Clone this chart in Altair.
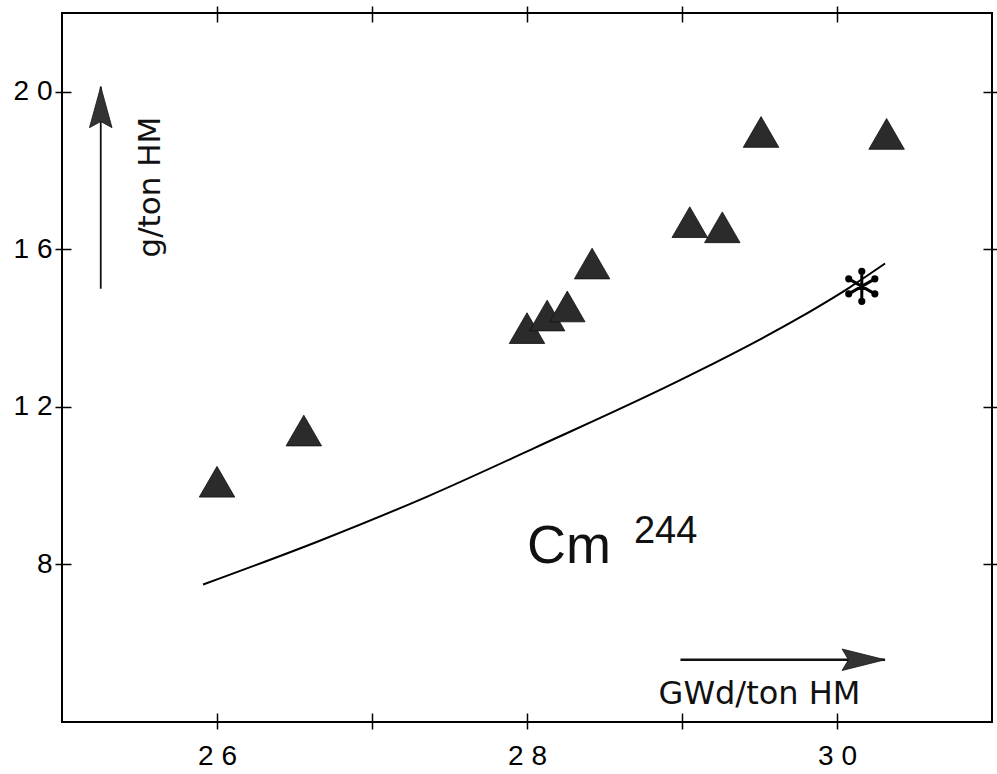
import altair as alt
import pandas as pd

# measured points (triangles)
burnup = [26.0, 26.56, 28.0, 28.13, 28.26, 28.42, 29.05, 29.26, 29.51, 30.32]
cm244 = [10.1, 11.4, 14.0, 14.32, 14.55, 15.64, 16.69, 16.56, 18.98, 18.93]

# calculated curve
curve_x = [25.91, 26.655, 27.36, 28.05, 29.03, 29.76, 30.08, 30.31]
curve_y = [7.49, 8.59, 9.73, 10.96, 12.76, 14.27, 15.03, 15.64]

# asterisk point
star_x = [30.16]
star_y = [15.06]

# axis ticks
x_ticks = [26, 27, 28, 29, 30]
x_labels = [26, 28, 30]
y_ticks = [8, 12, 16, 20]
x_domain = [25, 31]
y_domain = [4, 22]

# annotations (data coordinates)
xarrow_x = [28.99, 30.31]
xarrow_y = [5.58]
yarrow_x = [25.25]
yarrow_y = [15.0, 20.13]
xtitle_pos = [29.50, 4.46]
ytitle_pos = [25.575, 17.58]
cm_pos = [28.0, 8.03]
sup_pos = [28.69, 8.535]

xs = alt.Scale(domain=x_domain, nice=False, zero=False)
ys = alt.Scale(domain=y_domain, nice=False, zero=False)

spaced = "length(datum.label) == 2 ? substring(datum.label,0,1) + ' ' + substring(datum.label,1,2) : datum.label"
xlab_expr = "indexof(" + str(x_labels) + ", datum.value) >= 0 ? (" + spaced + ") : ''"

tick_common = dict(tickSize=16, tickWidth=1.5, tickColor="black", domain=False,
                   grid=False, title=None, offset=-9)


def xaxis(orient, labels=False):
    if labels:
        return alt.Axis(orient=orient, values=x_ticks, labels=True,
                        labelExpr=xlab_expr, format="d", labelFontSize=28,
                        labelFont="Liberation Sans", labelColor="black",
                        labelPadding=13, labelOverlap=False, labelFlush=False,
                        **tick_common)
    return alt.Axis(orient=orient, values=x_ticks, labels=False, **tick_common)


def yaxis(orient, labels=False):
    if labels:
        return alt.Axis(orient=orient, values=y_ticks, labels=True,
                        labelExpr=spaced, format="d", labelFontSize=28,
                        labelFont="Liberation Sans", labelColor="black",
                        labelPadding=3, labelOverlap=False, labelFlush=False,
                        **tick_common)
    return alt.Axis(orient=orient, values=y_ticks, labels=False, **tick_common)


curve_df = pd.DataFrame({"x": curve_x, "y": curve_y})
pts_df = pd.DataFrame({"x": burnup, "y": cm244})
star_df = pd.DataFrame({"x": star_x, "y": star_y})

curve = alt.Chart(curve_df).mark_line(color="black", strokeWidth=2,
                                      interpolate="monotone").encode(
    x=alt.X("x:Q", scale=xs, axis=xaxis("bottom", True)),
    y=alt.Y("y:Q", scale=ys, axis=yaxis("left", True)),
)

tri = alt.Chart(pts_df).mark_point(shape="triangle-up", size=1260, filled=True,
                                   fill="#2b2b2b", stroke="#111", strokeWidth=0.8,
                                   opacity=1).encode(
    x=alt.X("x:Q", scale=xs, axis=xaxis("top")),
    y=alt.Y("y:Q", scale=ys, axis=yaxis("right")),
)


def knob(px, py, r=0.14):
    return (f"M{px + r:.3f},{py:.3f}A{r},{r} 0 1,1 {px - r:.3f},{py:.3f}"
            f"A{r},{r} 0 1,1 {px + r:.3f},{py:.3f}Z")


arms = "M0,-1L0,1M-0.87,-0.5L0.87,0.5M-0.87,0.5L0.87,-0.5"
ends = [(0, -1), (0, 1), (-0.87, -0.5), (0.87, 0.5), (-0.87, 0.5), (0.87, -0.5)]
star_path = arms + "".join(knob(a, b) for a, b in ends)

star = alt.Chart(star_df).mark_point(
    shape=star_path, size=900, filled=True, fill="black", stroke="black",
    strokeWidth=3, strokeCap="round", opacity=1).encode(
    x=alt.X("x:Q", scale=xs, axis=None),
    y=alt.Y("y:Q", scale=ys, axis=None),
)

xarrow_df = pd.DataFrame({"x": [xarrow_x[0]], "x2": [xarrow_x[1]], "y": xarrow_y})
xarrow = alt.Chart(xarrow_df).mark_rule(color="#111", strokeWidth=2.5).encode(
    x=alt.X("x:Q", scale=xs, axis=None),
    x2="x2:Q",
    y=alt.Y("y:Q", scale=ys, axis=None),
)
xhead_df = pd.DataFrame({"x": [xarrow_x[1]], "y": xarrow_y})
xhead = alt.Chart(xhead_df).mark_point(
    shape="M0,0L-2,-0.5L-1.7,0L-2,0.5Z", size=1849, filled=True,
    fill="#333", stroke="#111", strokeWidth=0.8, opacity=1).encode(
    x=alt.X("x:Q", scale=xs, axis=None),
    y=alt.Y("y:Q", scale=ys, axis=None),
)

yarrow_df = pd.DataFrame({"x": yarrow_x, "y": [yarrow_y[0]], "y2": [yarrow_y[1]]})
yarrow = alt.Chart(yarrow_df).mark_rule(color="#111", strokeWidth=1.8).encode(
    x=alt.X("x:Q", scale=xs, axis=None),
    y=alt.Y("y:Q", scale=ys, axis=None),
    y2="y2:Q",
)
yhead_df = pd.DataFrame({"x": yarrow_x, "y": [yarrow_y[1]]})
yhead = alt.Chart(yhead_df).mark_point(
    shape="M0,0L-0.55,2L0,1.7L0.55,2Z", size=1681, filled=True,
    fill="#333", stroke="#111", strokeWidth=0.8, opacity=1).encode(
    x=alt.X("x:Q", scale=xs, axis=None),
    y=alt.Y("y:Q", scale=ys, axis=None),
)


def label(text, pos, size, font, align="left", baseline="alphabetic", angle=0):
    df = pd.DataFrame({"x": [pos[0]], "y": [pos[1]], "t": [text]})
    return alt.Chart(df).mark_text(fontSize=size, font=font, align=align,
                                   baseline=baseline, angle=angle,
                                   color="#111").encode(
        x=alt.X("x:Q", scale=xs, axis=None),
        y=alt.Y("y:Q", scale=ys, axis=None),
        text="t:N",
    )


cm = label("Cm", cm_pos, 54, "Liberation Sans")
sup = label("244", sup_pos, 38, "Liberation Sans")
xtitle = label("GWd/ton HM", xtitle_pos, 32, "DejaVu Sans", align="center")
ytitle = label("g/ton HM", ytitle_pos, 31, "DejaVu Sans", align="center",
               baseline="middle", angle=270)

chart = alt.layer(
    curve, tri, star, xarrow, xhead, yarrow, yhead, cm, sup, xtitle, ytitle
).resolve_scale(x="shared", y="shared").resolve_axis(
    x="independent", y="independent"
).properties(
    width=930, height=709,
    autosize="none",
    padding={"left": 62, "top": 13, "right": 5, "bottom": 52},
    background="white",
).configure_view(stroke="black", strokeWidth=2)

chart.save("out.html", embed_options={"renderer": "svg", "actions": False})
